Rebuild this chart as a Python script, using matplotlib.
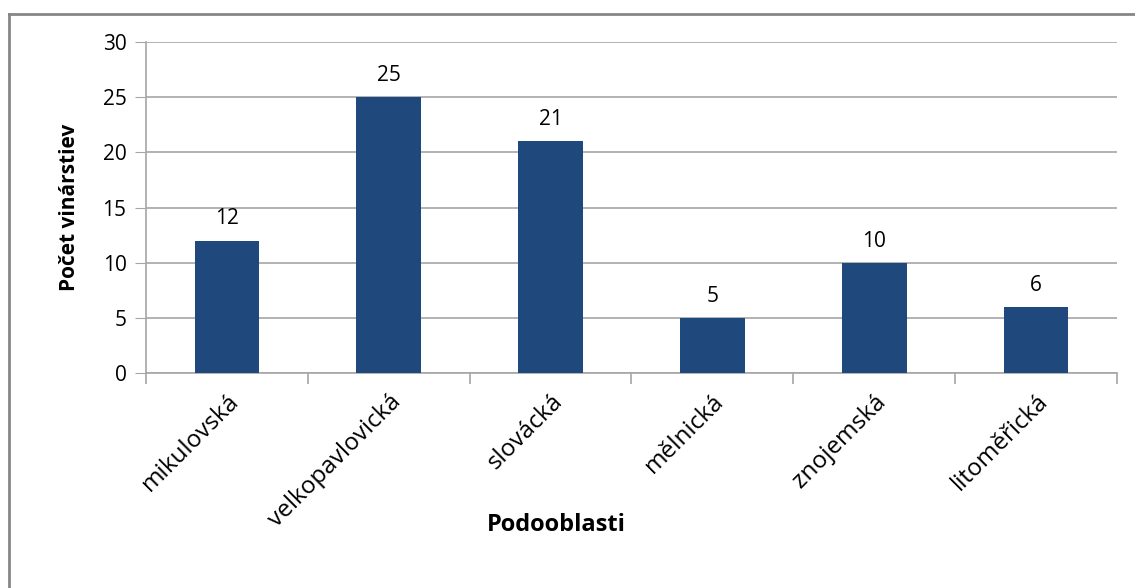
import matplotlib.pyplot as plt
from matplotlib.lines import Line2D

# Počet vinárstiev podľa podoblastí
podoblasti = ["mikulovská", "velkopavlovická", "slovácká", "mělnická", "znojemská", "litoměřická"]
pocet = [12, 25, 21, 5, 10, 6]

plt.rcParams['font.family'] = ['Open Sans', 'DejaVu Sans']

fig = plt.figure(figsize=(11.35, 5.88), dpi=100)
ax = fig.add_axes([146 / 1135, 1 - 373 / 588, (1117 - 146) / 1135, (373 - 42) / 588])

x = list(range(len(podoblasti)))
bars = ax.bar(x, pocet, width=0.4, color="#1F497D", zorder=3)
for b, v in zip(bars, pocet):
    ax.annotate(str(v), (b.get_x() + b.get_width() / 2, v), xytext=(0, 8),
                textcoords="offset points", ha="center", va="bottom", fontsize=15)

ax.set_xlim(-0.5, len(podoblasti) - 0.5)
ax.set_ylim(0, 30)
ax.set_yticks(range(0, 31, 5))
ax.yaxis.grid(True, color="#A6A6A6", linewidth=1.2, zorder=0)
ax.tick_params(axis="y", length=8, color="#A6A6A6", labelsize=15, pad=6)

# odsadené značky medzi kategóriami
ax.set_xticks([i - 0.5 for i in range(len(podoblasti) + 1)])
ax.set_xticklabels([])
ax.tick_params(axis="x", length=8, color="#A6A6A6", width=1.2)
ax.set_xticks(x, minor=True)
ax.set_xticklabels(podoblasti, minor=True, rotation=45, ha="right",
                   rotation_mode="anchor", fontsize=17.5)
ax.tick_params(axis="x", which="minor", length=0, pad=12)

for s in ["top", "right"]:
    ax.spines[s].set_visible(False)
for s in ["left", "bottom"]:
    ax.spines[s].set_color("#A6A6A6")
    ax.spines[s].set_linewidth(1.2)

ax.set_ylabel("Počet vinárstiev", fontsize=15, fontweight="bold", labelpad=16)
fig.text(556 / 1135, 1 - 525 / 588, "Podooblasti", fontsize=17, fontweight="bold",
         ha="center", va="center")

# rám okolo grafu
fig.add_artist(Line2D([9 / 1135, 1.0], [1 - 14 / 588] * 2, transform=fig.transFigure,
                      color="#868686", linewidth=2))
fig.add_artist(Line2D([9 / 1135] * 2, [0, 1 - 14 / 588], transform=fig.transFigure,
                      color="#868686", linewidth=2))

fig.savefig("out.png", dpi=100)
